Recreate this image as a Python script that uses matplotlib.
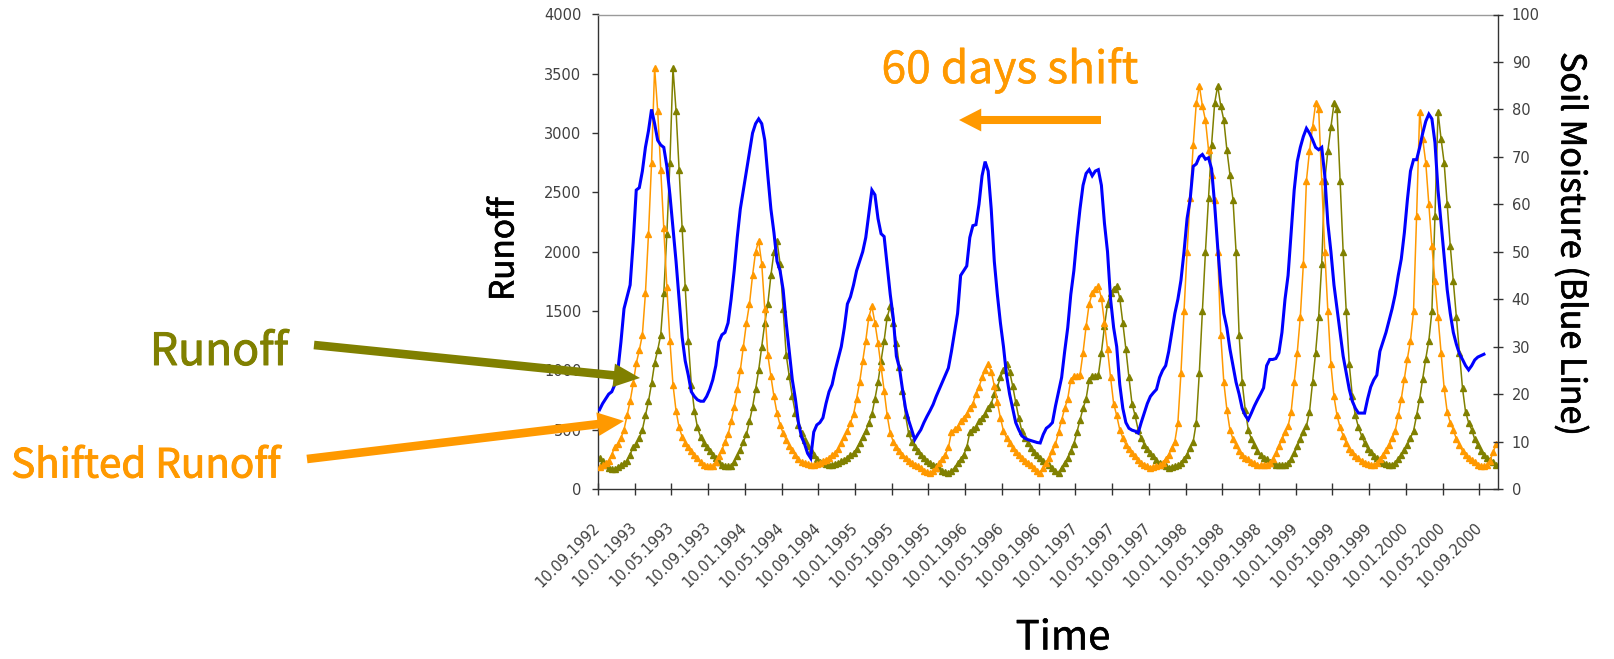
import matplotlib
matplotlib.use("Agg")
import matplotlib.pyplot as plt
import matplotlib.patheffects as pe
from matplotlib.patches import FancyArrowPatch

W, H = 1614, 659

# Dekadal (10-day) runoff from 10.09.1992; the last 6 values feed the shifted series
runoff = [
    265, 235, 200, 180, 170, 165, 188, 200, 215, 240, 290, 357,
    380, 430, 500, 620, 740, 890, 1060, 1170, 1300, 1650, 2150, 2750,
    3550, 3190, 2690, 2200, 1700, 1250, 880, 660, 520, 440, 390, 355,
    320, 290, 260, 225, 205, 195, 190, 192, 230, 280, 330, 400,
    460, 570, 690, 840, 1000, 1200, 1400, 1560, 1800, 2000, 2090, 1900,
    1520, 1130, 950, 780, 640, 540, 470, 415, 365, 330, 290, 255,
    230, 218, 208, 205, 205, 210, 220, 232, 248, 265, 285, 303,
    340, 385, 440, 490, 560, 630, 760, 900, 1080, 1250, 1450, 1540,
    1400, 1230, 1030, 830, 620, 470, 400, 355, 320, 290, 265, 240,
    220, 205, 190, 175, 152, 142, 135, 150, 180, 215, 250, 290,
    350, 480, 505, 525, 570, 600, 635, 680, 720, 800, 860, 940,
    1000, 1050, 990, 870, 730, 600, 490, 430, 390, 345, 315, 285,
    262, 240, 220, 200, 178, 150, 138, 180, 220, 260, 320, 380,
    480, 580, 680, 760, 920, 950, 950, 960, 1150, 1370, 1560, 1650,
    1690, 1710, 1610, 1400, 1180, 940, 720, 620, 500, 430, 375, 335,
    300, 275, 245, 220, 205, 192, 180, 185, 192, 200, 220, 255,
    290, 345, 400, 560, 980, 1500, 2000, 2450, 2900, 3250, 3400, 3230,
    3110, 2860, 2650, 2440, 2000, 1300, 900, 670, 500, 420, 370, 320,
    290, 265, 250, 230, 215, 205, 200, 200, 205, 220, 250, 300,
    360, 420, 480, 530, 650, 900, 1150, 1450, 1900, 2600, 2850, 3050,
    3250, 3200, 2600, 2000, 1500, 1050, 780, 620, 520, 450, 390, 340,
    310, 280, 260, 240, 220, 210, 205, 205, 215, 250, 290, 330,
    370, 430, 490, 620, 760, 930, 1100, 1250, 1500, 2300, 3180, 2950,
    2750, 2400, 2050, 1750, 1450, 1150, 850, 650, 560, 500, 420, 370,
    320, 290, 265, 245, 225, 205, 195, 190, 200, 240, 310, 380,
]

# Dekadal soil moisture (right axis)
soil_moisture = [
    16.7, 18, 19, 20, 20.5, 22, 25, 31, 38, 40.5, 43, 52,
    63, 63.5, 67, 72, 75.5, 80, 77, 73.5, 72.5, 72, 68, 62,
    55, 48, 40, 32, 27, 24, 20.5, 19.5, 18.8, 18.5, 18.5, 19.5,
    21, 23, 26, 31, 32.5, 33, 35, 40, 46, 53, 59, 63,
    67, 71, 75, 77, 78, 77, 73.5, 66, 59, 54, 48, 46,
    42, 35, 29, 23, 19, 14, 11, 9.5, 7.5, 6.5, 12, 13.5,
    14, 15, 18, 20.5, 22, 25, 27.5, 30, 34, 39, 40.5, 43,
    46, 48, 50, 53, 58, 63, 62, 57, 53.8, 53.2, 47, 41,
    36, 28, 25.5, 21, 17, 14.5, 12.5, 10.4, 11.5, 12.5, 14, 15.3,
    16.5, 17.8, 19.5, 21, 22.5, 24, 25.5, 29, 33, 37, 45, 46,
    47, 53, 55.5, 55.7, 60, 66, 69, 67, 59, 48, 41, 35,
    30, 24, 20, 17, 14, 12.5, 11.2, 10.7, 10.4, 10.2, 10, 9.8,
    9.7, 11.5, 12.8, 13.3, 14, 17.5, 20.5, 23.5, 29, 34, 41, 46,
    53, 59, 64, 66.5, 67.3, 66, 67, 67.3, 64, 56, 50, 40,
    34, 30, 22, 17, 14, 12.8, 12.4, 12.2, 11.8, 14, 16, 18,
    19.5, 20.3, 21, 23.5, 25, 26, 29, 33, 37, 40, 44, 50,
    57, 61, 68, 68.5, 70, 70.5, 69.5, 69.8, 67.5, 60, 51, 43,
    37, 34, 29.5, 26, 22.5, 20, 17, 15.5, 14.6, 16, 17.5, 18.8,
    20, 21.3, 26, 27.3, 27.3, 27.5, 28.7, 33, 40, 45, 54, 63,
    69, 72, 74.3, 76, 75, 73.6, 72, 71.5, 72, 66, 56, 50,
    43, 38, 33, 28, 24.5, 21, 18.5, 17, 16, 16, 16, 19,
    21.5, 23, 24, 29, 31, 33, 35.5, 38, 41, 45, 48.5, 54,
    61, 67, 69.4, 69.4, 72, 75, 77.5, 79, 78, 73, 63, 56,
    49, 42, 37, 33, 30.5, 28.5, 27.3, 26, 25.1, 26, 27.2, 27.8,
    28.1, 28.4,
]

shift_dekads = 6          # 60 days
n_dekads = 294            # dekads shown on the time axis

date_labels = [
    "10.09.1992", "10.01.1993", "10.05.1993", "10.09.1993",
    "10.01.1994", "10.05.1994", "10.09.1994", "10.01.1995",
    "10.05.1995", "10.09.1995", "10.01.1996", "10.05.1996",
    "10.09.1996", "10.01.1997", "10.05.1997", "10.09.1997",
    "10.01.1998", "10.05.1998", "10.09.1998", "10.01.1999",
    "10.05.1999", "10.09.1999", "10.01.2000", "10.05.2000",
    "10.09.2000",
]

OLIVE = "#808000"
ORANGE = "#FF9900"
BLUE = "#0000FF"
AXIS_GREY = "#333333"
LABEL_GREY = "#404040"
JP_FONT = ["Noto Sans CJK JP", "DejaVu Sans"]


def fx(px):
    return px / W


def fy(py):
    return 1 - py / H


def heavy(color, width=0.45):
    # slightly thicker strokes than the regular face
    return [pe.withStroke(linewidth=width, foreground=color)]


fig = plt.figure(figsize=(W / 100, H / 100), dpi=100)
fig.patch.set_facecolor("white")

ax = fig.add_axes([fx(598), fy(489), (1498 - 598) / W, (489 - 14.5) / H])
ax2 = ax.twinx()

x = list(range(n_dekads))
shifted = runoff[shift_dekads:shift_dekads + n_dekads]

ax.plot(x, runoff[:n_dekads], color=OLIVE, lw=1.1, marker="^", ms=4.2,
        mec=OLIVE, mfc=OLIVE, zorder=2)
ax.plot(x, shifted, color=ORANGE, lw=1.1, marker="^", ms=4.2,
        mec=ORANGE, mfc=ORANGE, zorder=3)
ax2.plot(range(len(soil_moisture)), soil_moisture, color=BLUE, lw=2.2,
         solid_joinstyle="miter", zorder=4)

# Axes ranges and ticks
ax.set_xlim(-0.5, 293.6)
ax.set_ylim(0, 4000)
ax2.set_ylim(0, 100)
ax.set_yticks(range(0, 4001, 500))
ax2.set_yticks(range(0, 101, 10))
ax.set_xticks([12 * k - 0.5 for k in range(len(date_labels))])
ax.set_xticklabels(date_labels, rotation=45, ha="right", va="center",
                   rotation_mode="anchor")

ax.tick_params(axis="y", direction="out", length=4.5, width=1.0,
               color=AXIS_GREY, labelsize=10.5, labelcolor=LABEL_GREY, pad=7.5)
ax.tick_params(axis="x", direction="inout", length=8, width=1.0,
               color=AXIS_GREY, labelsize=10.5, labelcolor=LABEL_GREY, pad=22)
ax2.tick_params(axis="y", direction="inout", length=7.7, width=1.0,
                color=AXIS_GREY, labelsize=10.5, labelcolor=LABEL_GREY, pad=6)

for s in ("left", "bottom"):
    ax.spines[s].set_color(AXIS_GREY)
    ax.spines[s].set_linewidth(1.0)
ax.spines["top"].set_color("#9a9a9a")
ax.spines["top"].set_linewidth(1.0)
ax.spines["right"].set_visible(False)
for s in ("left", "bottom", "top"):
    ax2.spines[s].set_visible(False)
ax2.spines["right"].set_color(AXIS_GREY)
ax2.spines["right"].set_linewidth(1.0)

# Axis titles
fig.text(fx(504), fy(249), "Runoff", rotation=90, ha="center", va="center",
         fontsize=24, family=JP_FONT, color="black",
         path_effects=heavy("black", 0.5))
fig.text(fx(1571), fy(244), "Soil Moisture (Blue Line)", rotation=270,
         ha="center", va="center", fontsize=24.5, family=JP_FONT,
         color="black", path_effects=heavy("black", 0.5))
fig.text(fx(1063), fy(638), "Time", ha="center", va="center",
         fontsize=29, family=JP_FONT, color="black",
         path_effects=heavy("black", 0.3))

# Annotations
fig.text(fx(1010), fy(70), "60 days shift", ha="center", va="center",
         fontsize=32, family=JP_FONT, color=ORANGE,
         path_effects=heavy(ORANGE, 0.3))
fig.text(fx(219), fy(352), "Runoff", ha="center", va="center",
         fontsize=32, family=JP_FONT, color=OLIVE,
         path_effects=heavy(OLIVE, 0.7))
fig.text(fx(146), fy(466), "Shifted Runoff", ha="center", va="center",
         fontsize=29, family=JP_FONT, color=ORANGE,
         path_effects=heavy(ORANGE, 0.7))


def arrow(x0, y0, x1, y1, color, tail, head_w, head_l):
    patch = FancyArrowPatch(
        (fx(x0), fy(y0)), (fx(x1), fy(y1)), transform=fig.transFigure,
        arrowstyle=f"simple,head_length={head_l},head_width={head_w},tail_width={tail}",
        mutation_scale=1, color=color, lw=0, shrinkA=0, shrinkB=0, zorder=10)
    fig.add_artist(patch)


arrow(1101, 120, 959, 120, ORANGE, 5.8, 16.5, 16)
arrow(314, 345, 640, 378, OLIVE, 6.2, 17, 19)
arrow(307, 459, 624, 421, ORANGE, 6.2, 17, 19)

fig.savefig("out.png", dpi=100, facecolor="white")
